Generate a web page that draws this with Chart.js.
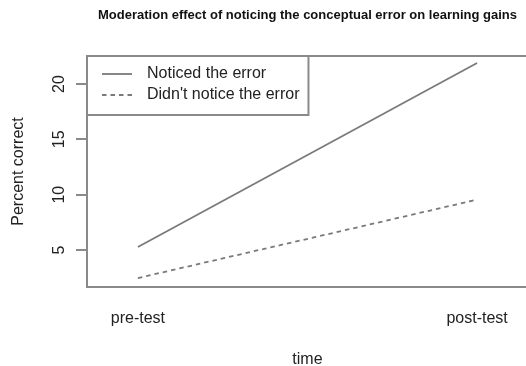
<!DOCTYPE html>
<html>
<head>
<meta charset="utf-8">
<script src="https://cdn.jsdelivr.net/npm/chart.js@4"></script>
<style>
html,body{margin:0;padding:0;overflow:hidden;background:#fff;width:526px;height:366px;}
canvas{display:block;}
</style>
</head>
<body>
<canvas id="c" width="530" height="366"></canvas>
<script>
const timePoints = [1, 2];
const xTickLabels = ["pre-test", "post-test"];
const noticed = [5.27, 21.9];
const notNoticed = [2.47, 9.55];
const yTicks = [5, 10, 15, 20];
const seriesLabels = ["Noticed the error", "Didn't notice the error"];

const FONT = "'Liberation Sans', Arial, Helvetica, sans-serif";
const TXT = '#222';
const LINE = '#7a7a7a';
const BORDER = '#8a8a8a';

const boxPlugin = {
  id: 'boxPlugin',
  afterDraw(chart) {
    const {ctx, chartArea: a} = chart;
    const ys = chart.scales.y;
    ctx.save();
    ctx.strokeStyle = BORDER;
    ctx.lineWidth = 2;
    ctx.strokeRect(a.left, a.top, a.right - a.left, a.bottom - a.top);
    // y tick marks
    yTicks.forEach(v => {
      const py = Math.round(ys.getPixelForValue(v));
      ctx.beginPath();
      ctx.moveTo(a.left - 11, py);
      ctx.lineTo(a.left, py);
      ctx.stroke();
    });
    // legend
    ctx.font = '16px ' + FONT;
    const ds = chart.data.datasets;
    const textX = a.left + 60;
    const sampleX0 = a.left + 15, sampleX1 = a.left + 45;
    let maxW = 0;
    ds.forEach(d => { maxW = Math.max(maxW, ctx.measureText(d.label).width); });
    const boxR = textX + maxW + 9;
    const boxB = a.top + 59;
    ctx.strokeRect(a.left, a.top, boxR - a.left, boxB - a.top);
    ds.forEach((d, i) => {
      const y = a.top + 18 + i * 21;
      ctx.strokeStyle = d.borderColor;
      ctx.lineWidth = d.borderWidth;
      ctx.setLineDash(d.borderDash || []);
      ctx.beginPath();
      ctx.moveTo(sampleX0, y);
      ctx.lineTo(sampleX1, y);
      ctx.stroke();
      ctx.setLineDash([]);
      ctx.fillStyle = TXT;
      ctx.textBaseline = 'middle';
      ctx.textAlign = 'left';
      ctx.fillText(d.label, textX, y);
    });
    ctx.restore();
  }
};

new Chart(document.getElementById('c'), {
  type: 'line',
  data: {
    datasets: [
      {
        label: seriesLabels[0],
        data: timePoints.map((t, i) => ({x: t, y: noticed[i]})),
        borderColor: LINE, borderWidth: 1.8, pointRadius: 0, fill: false, tension: 0
      },
      {
        label: seriesLabels[1],
        data: timePoints.map((t, i) => ({x: t, y: notNoticed[i]})),
        borderColor: LINE, borderWidth: 1.8, borderDash: [4.5, 4], pointRadius: 0, fill: false, tension: 0
      }
    ]
  },
  options: {
    responsive: false,
    animation: false,
    layout: {padding: 0},
    plugins: {
      legend: {display: false},
      tooltip: {enabled: false},
      title: {
        display: true,
        fullSize: false,
        text: 'Moderation effect of noticing the conceptual error on learning gains',
        color: '#111',
        font: {family: FONT, size: 13, weight: 'bold', lineHeight: 1.2},
        padding: {top: 7.2, bottom: 33.2}
      }
    },
    scales: {
      x: {
        type: 'linear',
        min: 0.85, max: 2.15,
        afterBuildTicks: s => { s.ticks = timePoints.map(v => ({value: v})); },
        afterFit: s => { s.height = 79; },
        grid: {display: false, drawTicks: false},
        border: {display: false},
        ticks: {
          color: TXT, font: {family: FONT, size: 16}, padding: 22,
          maxRotation: 0, minRotation: 0, autoSkip: false,
          callback: (v, i) => xTickLabels[i]
        },
        title: {display: true, text: 'time', color: TXT, font: {family: FONT, size: 16}, padding: {top: 0, bottom: -3}}
      },
      y: {
        type: 'linear',
        min: 1.66, max: 22.53,
        afterBuildTicks: s => { s.ticks = yTicks.map(v => ({value: v})); },
        afterFit: s => { s.width = 87; },
        grid: {display: false, drawTicks: false},
        border: {display: false},
        ticks: {
          color: TXT, font: {family: FONT, size: 16}, padding: 19,
          minRotation: 90, maxRotation: 90, crossAlign: 'center', autoSkip: false
        },
        title: {display: true, text: 'Percent correct', color: TXT, font: {family: FONT, size: 16}, padding: {top: 9, bottom: 0}}
      }
    }
  },
  plugins: [boxPlugin]
});
</script>
</body>
</html>
